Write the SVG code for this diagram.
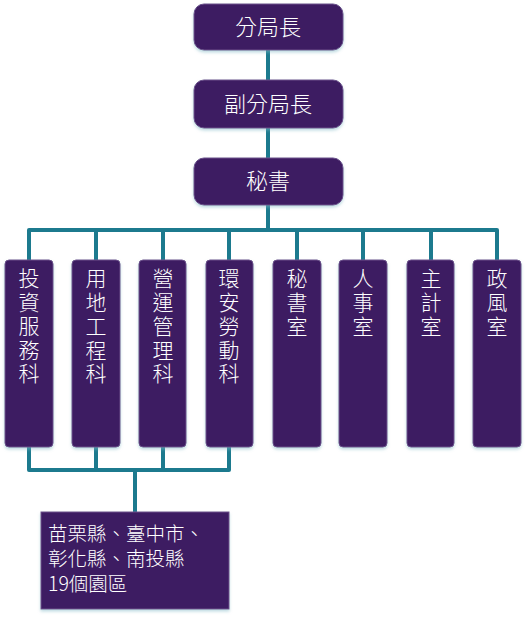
<svg xmlns="http://www.w3.org/2000/svg" width="527" height="618" viewBox="0 0 527 618">
<defs>
<filter id="sh" x="-20%" y="-20%" width="140%" height="140%">
<feDropShadow dx="0" dy="2" stdDeviation="1.5" flood-color="#7fb8c4" flood-opacity="0.5"/>
</filter>
</defs>
<style>
.box{fill:#3e1b62;stroke:#6a4f8a;stroke-width:1;filter:url(#sh)}
.t{fill:#ffffff;font-family:"Noto Sans CJK TC","Noto Sans CJK SC",sans-serif;font-weight:300;text-anchor:middle}
.big{font-size:22px}
.v{font-size:21px;writing-mode:vertical-rl;text-anchor:start;letter-spacing:2.7px}
.b{font-size:19.5px;text-anchor:start}
.c{fill:none;stroke:#1c7a8e;stroke-width:4;stroke-linejoin:round}
</style>
<rect width="527" height="618" fill="#ffffff"/>
<g id="connectors">
<path class="c" d="M268 50V80M268 128V158M268 205V230M29 260V230H497V260M96 230V260M163 230V260M229 230V260M297 230V260M363 230V260M431 230V260"/>
<path class="c" d="M29 447V470H229V447M96 447V470M163 447V470M135 470V512"/>
</g>
<g id="n1"><rect class="box" x="194" y="4" width="149" height="46" rx="10"/><text class="t big" x="268" y="35">分局長</text></g>
<g id="n2"><rect class="box" x="194" y="80" width="149" height="48" rx="10"/><text class="t big" x="268" y="112">副分局長</text></g>
<g id="n3"><rect class="box" x="194" y="158" width="149" height="47" rx="10"/><text class="t big" x="268" y="189">秘書</text></g>
<g id="d1"><rect class="box" x="5" y="260" width="48" height="187" rx="4"/><text class="t v" x="29" y="268">投資服務科</text></g>
<g id="d2"><rect class="box" x="72" y="260" width="48" height="187" rx="4"/><text class="t v" x="96" y="268">用地工程科</text></g>
<g id="d3"><rect class="box" x="139" y="260" width="47" height="187" rx="4"/><text class="t v" x="163" y="268">營運管理科</text></g>
<g id="d4"><rect class="box" x="206" y="260" width="47" height="187" rx="4"/><text class="t v" x="229" y="268">環安勞動科</text></g>
<g id="d5"><rect class="box" x="273" y="260" width="48" height="187" rx="4"/><text class="t v" x="297" y="268">秘書室</text></g>
<g id="d6"><rect class="box" x="339" y="260" width="48" height="187" rx="4"/><text class="t v" x="363" y="268">人事室</text></g>
<g id="d7"><rect class="box" x="407" y="260" width="47" height="187" rx="4"/><text class="t v" x="431" y="268">主計室</text></g>
<g id="d8"><rect class="box" x="473" y="260" width="48" height="187" rx="4"/><text class="t v" x="497" y="268">政風室</text></g>
<g id="parks"><rect class="box" x="41" y="512" width="188" height="97"/><text class="t b" x="48" y="541"><tspan x="48">苗栗縣、臺中市、</tspan><tspan x="48" dy="25">彰化縣、南投縣</tspan><tspan x="48" dy="25">19個園區</tspan></text></g>
</svg>
